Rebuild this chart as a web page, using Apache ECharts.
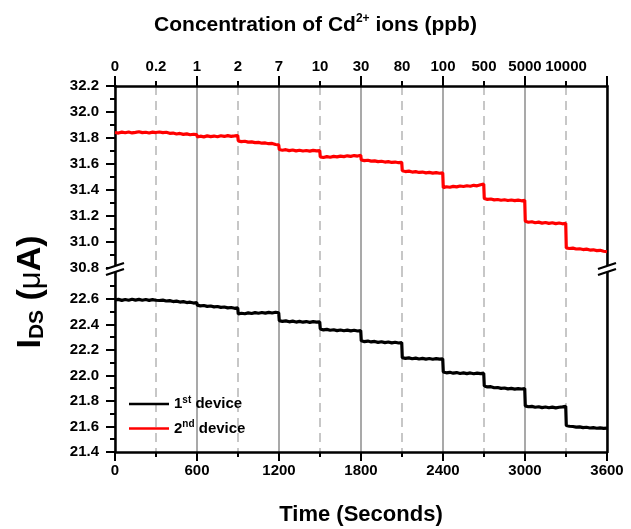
<!DOCTYPE html>
<html><head><meta charset="utf-8">
<script src="https://cdn.jsdelivr.net/npm/echarts@6/dist/echarts.min.js"></script>
<style>html,body{margin:0;padding:0;background:#fff}#c{width:631px;height:529px}</style>
</head><body><div id="c"></div>
<script>
const times = [
0,25,50,75,100,125,150,175,200,225,250,275,298,
302,325,350,375,400,425,450,475,500,525,550,575,598,
602,625,650,675,700,725,750,775,800,825,850,875,898,
902,925,950,975,1000,1025,1050,1075,1100,1125,1150,1175,1198,
1202,1225,1250,1275,1300,1325,1350,1375,1400,1425,1450,1475,1498,
1502,1525,1550,1575,1600,1625,1650,1675,1700,1725,1750,1775,1798,
1802,1825,1850,1875,1900,1925,1950,1975,2000,2025,2050,2075,2098,
2102,2125,2150,2175,2200,2225,2250,2275,2300,2325,2350,2375,2398,
2402,2425,2450,2475,2500,2525,2550,2575,2600,2625,2650,2675,2698,
2702,2725,2750,2775,2800,2825,2850,2875,2900,2925,2950,2975,2998,
3002,3025,3050,3075,3100,3125,3150,3175,3200,3225,3250,3275,3298,
3302,3325,3350,3375,3400,3425,3450,3475,3500,3525,3550,3575,3600];

const device1 = [
22.592,22.597,22.589,22.596,22.590,22.598,22.591,22.597,22.590,22.596,22.589,22.595,22.590,
22.594,22.588,22.591,22.584,22.587,22.580,22.583,22.576,22.579,22.572,22.575,22.568,22.571,
22.552,22.546,22.549,22.542,22.545,22.538,22.541,22.534,22.537,22.530,22.533,22.527,22.530,
22.482,22.488,22.484,22.491,22.486,22.493,22.488,22.494,22.489,22.495,22.490,22.496,22.492,
22.430,22.424,22.428,22.421,22.426,22.419,22.424,22.418,22.423,22.417,22.422,22.418,22.421,
22.365,22.358,22.362,22.355,22.359,22.352,22.357,22.351,22.356,22.350,22.355,22.349,22.353,
22.272,22.266,22.270,22.263,22.267,22.260,22.265,22.258,22.263,22.256,22.261,22.255,22.259,
22.140,22.134,22.138,22.131,22.136,22.129,22.134,22.128,22.133,22.127,22.132,22.128,22.131,
22.028,22.021,22.025,22.018,22.023,22.016,22.021,22.015,22.020,22.014,22.019,22.015,22.018,
21.918,21.910,21.912,21.904,21.906,21.899,21.902,21.895,21.899,21.893,21.897,21.894,21.898,
21.762,21.755,21.758,21.751,21.755,21.748,21.753,21.747,21.752,21.746,21.751,21.754,21.758,
21.608,21.602,21.600,21.595,21.597,21.591,21.594,21.588,21.591,21.586,21.589,21.585,21.587];

const device2 = [
31.842,31.838,31.845,31.840,31.846,31.839,31.843,31.848,31.841,31.844,31.838,31.845,31.842,
31.852,31.846,31.841,31.844,31.836,31.838,31.831,31.835,31.828,31.832,31.825,31.829,31.826,
31.808,31.814,31.809,31.816,31.811,31.815,31.810,31.817,31.812,31.818,31.813,31.816,31.819,
31.778,31.772,31.775,31.768,31.770,31.764,31.766,31.760,31.762,31.756,31.758,31.750,31.747,
31.712,31.706,31.710,31.703,31.708,31.701,31.706,31.700,31.704,31.699,31.705,31.701,31.703,
31.655,31.650,31.657,31.652,31.659,31.655,31.661,31.657,31.663,31.659,31.665,31.661,31.667,
31.632,31.626,31.629,31.622,31.624,31.618,31.621,31.615,31.618,31.612,31.615,31.610,31.613,
31.548,31.542,31.545,31.538,31.541,31.535,31.538,31.532,31.536,31.530,31.534,31.529,31.533,
31.418,31.425,31.421,31.428,31.424,31.431,31.427,31.433,31.429,31.436,31.432,31.440,31.446,
31.335,31.328,31.331,31.324,31.327,31.321,31.325,31.319,31.323,31.318,31.322,31.317,31.320,
31.160,31.152,31.156,31.148,31.153,31.145,31.150,31.143,31.148,31.141,31.146,31.140,31.144,
30.955,30.950,30.953,30.946,30.948,30.942,30.945,30.938,30.940,30.934,30.936,30.929,30.925];

const concTimes = [0,300,600,900,1200,1500,1800,2100,2400,2700,3000,3300];
const concLabels = ['0','0.2','1','2','7','10','30','80','100','500','5000','10000'];
const upperTicks = [30.8,31.0,31.2,31.4,31.6,31.8,32.0,32.2];
const lowerTicks = [21.4,21.6,21.8,22.0,22.2,22.4,22.6];

const F = '"Liberation Sans", Arial, sans-serif';
const lab = {color:'#000', fontFamily:F, fontWeight:'bold', fontSize:15};
const axLine = {show:true, lineStyle:{color:'#000', width:2.5}};
const tick = {show:true, length:9, lineStyle:{color:'#000', width:2}};
const mtick = {show:true, splitNumber:2, length:5, lineStyle:{color:'#000', width:2}};
const solidGrid = {show:true, lineStyle:{color:'#8c8c8c', width:1.5}};
const dashGrid = {show:true, lineStyle:{color:'#b5b5b5', width:1.5, type:[9,6]}};

const chart = echarts.init(document.getElementById('c'));
const option = {
  animation:false,
  backgroundColor:'#fff',
  title:{
    text:'{a|Concentration of Cd}{s|2+}{a| ions (ppb)}',
    left:'center', top:8,
    textStyle:{rich:{
      a:{fontFamily:F, fontWeight:'bold', fontSize:21, color:'#000', lineHeight:25},
      s:{fontFamily:F, fontWeight:'bold', fontSize:12, color:'#000', verticalAlign:'top', lineHeight:12}
    }}
  },
  legend:{
    data:['1st device','2nd device'],
    orient:'vertical', left:124, top:390, itemWidth:40, itemHeight:2.5, itemGap:8, icon:'rect',
    formatter: n => n === '1st device' ? '{a|1}{s|st}{a| device}' : '{a|2}{s|nd}{a| device}',
    textStyle:{rich:{
      a:{fontFamily:F, fontWeight:'bold', fontSize:15, color:'#000', lineHeight:18},
      s:{fontFamily:F, fontWeight:'bold', fontSize:10, color:'#000', verticalAlign:'top', lineHeight:10}
    }}
  },
  grid:[
    {left:115, right:24, top:86, height:182},
    {left:115, right:24, top:268, bottom:77}
  ],
  xAxis:[
    {gridIndex:0, type:'value', position:'top', min:0, max:3600, interval:600,
     axisLine:axLine, axisTick:Object.assign({}, tick, {length:10}), minorTick:mtick,
     axisLabel:Object.assign({}, lab, {margin:12, customValues:concTimes,
        formatter: v => concLabels[concTimes.indexOf(v)] ?? ''}),
     splitLine:solidGrid, minorSplitLine:dashGrid},
    {gridIndex:1, type:'value', position:'bottom', min:0, max:3600, interval:600,
     axisLine:axLine, axisTick:tick, minorTick:mtick,
     axisLabel:Object.assign({}, lab, {margin:11, formatter: v => String(v)}),
     splitLine:solidGrid, minorSplitLine:dashGrid,
     name:'Time (Seconds)', nameLocation:'middle', nameGap:52,
     nameTextStyle:{fontFamily:F, fontWeight:'bold', fontSize:22, color:'#000'}}
  ],
  yAxis:[
    {gridIndex:0, type:'value', min:30.8, max:32.2, interval:0.2,
     axisLine:axLine, axisTick:tick, minorTick:mtick, splitLine:{show:false},
     axisLabel:Object.assign({}, lab, {margin:16, formatter: v => v.toFixed(1)})},
    {gridIndex:1, type:'value', min:21.4, max:22.843, interval:0.2,
     axisLine:axLine,
     axisTick:Object.assign({}, tick, {customValues:lowerTicks}),
     minorTick:mtick, splitLine:{show:false},
     axisLabel:Object.assign({}, lab, {margin:16, customValues:lowerTicks, formatter: v => v.toFixed(1)})},
    {gridIndex:0, type:'value', position:'right', min:30.8, max:32.2,
     axisLine:axLine, axisTick:{show:false}, axisLabel:{show:false}, splitLine:{show:false}},
    {gridIndex:1, type:'value', position:'right', min:21.4, max:22.843,
     axisLine:axLine, axisTick:{show:false}, axisLabel:{show:false}, splitLine:{show:false}}
  ],
  series:[
    {name:'1st device', type:'line', xAxisIndex:1, yAxisIndex:1, symbol:'none',
     lineStyle:{color:'#000', width:3.2}, itemStyle:{color:'#000'},
     data: times.map((t,i)=>[t, device1[i]]), z:5},
    {name:'2nd device', type:'line', xAxisIndex:0, yAxisIndex:0, symbol:'none',
     lineStyle:{color:'#ff0000', width:3.2}, itemStyle:{color:'#ff0000'},
     data: times.map((t,i)=>[t, device2[i]]), z:5}
  ]
};
chart.setOption(option);

const pL = chart.convertToPixel({gridIndex:0}, [0, 30.8]);
const pR = chart.convertToPixel({gridIndex:0}, [3600, 30.8]);
function brk(x, y){
  return [
    {type:'polygon', z:100, shape:{points:[[x-9,y+1],[x+9,y-5],[x+9,y+1],[x-9,y+7]]}, style:{fill:'#fff'}},
    {type:'line', z:101, shape:{x1:x-9,y1:y+1,x2:x+9,y2:y-5}, style:{stroke:'#000', lineWidth:2.2}},
    {type:'line', z:101, shape:{x1:x-9,y1:y+7,x2:x+9,y2:y+1}, style:{stroke:'#000', lineWidth:2.2}}
  ];
}
chart.setOption({graphic:[
  ...brk(pL[0], pL[1]), ...brk(pR[0], pR[1]),
  {type:'text', x:31, y:292, rotation:Math.PI/2, z:100,
   style:{text:'{a|I}{b|DS}{a| (}{m|μ}{a|A)}', align:'center', verticalAlign:'middle',
     rich:{
       a:{fontFamily:F, fontWeight:'bold', fontSize:34, fill:'#000', lineHeight:34},
       b:{fontFamily:F, fontWeight:'bold', fontSize:21, fill:'#000', verticalAlign:'bottom', lineHeight:12},
       m:{fontFamily:F, fontWeight:'normal', fontSize:31, fill:'#000', lineHeight:34}
     }}}
]});
</script></body></html>
